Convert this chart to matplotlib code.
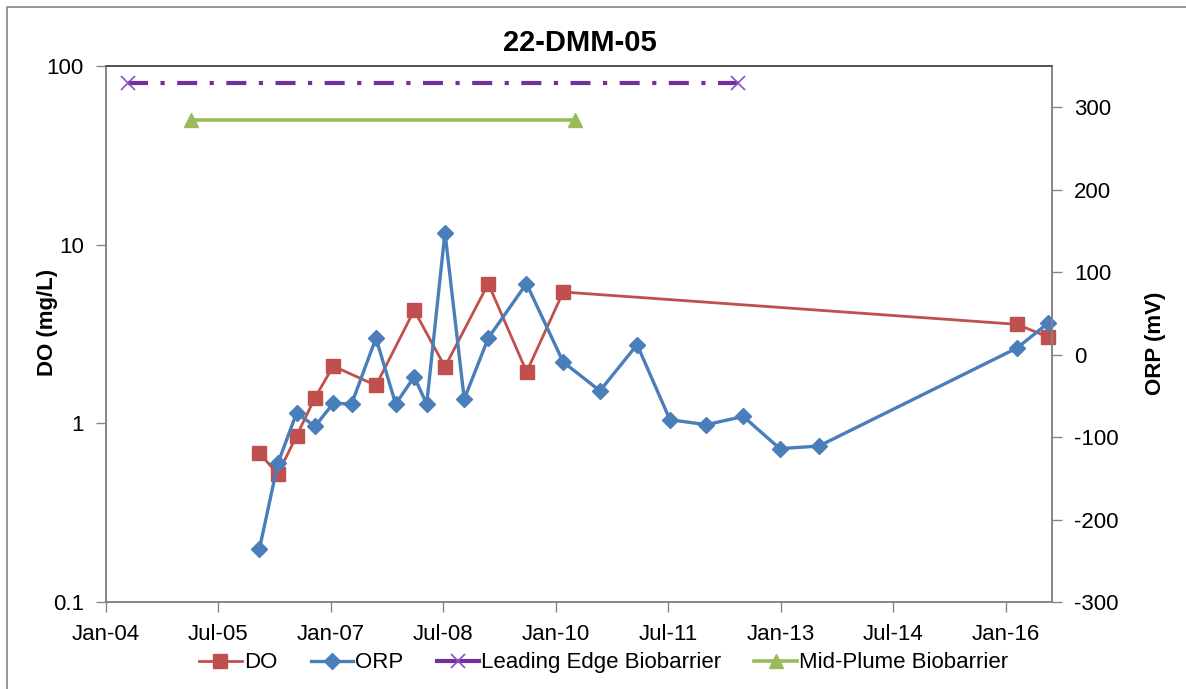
import pandas as pd
import matplotlib
matplotlib.use("Agg")
import matplotlib.pyplot as plt
import matplotlib.dates as mdates
from matplotlib.ticker import NullLocator, FixedLocator, FixedFormatter
from matplotlib.patches import Rectangle
from matplotlib.lines import Line2D

plt.rcParams['font.family'] = ['Liberation Sans', 'DejaVu Sans']
plt.rcParams['axes.unicode_minus'] = False

# dissolved oxygen (mg/L), left log axis
do_dates = pd.to_datetime([
    '2006-01-17', '2006-04-17', '2006-07-17', '2006-10-15', '2007-01-12',
    '2007-08-08', '2008-02-10', '2008-07-09', '2009-02-05', '2009-08-11',
    '2010-02-05', '2016-02-25', '2016-07-24'])
do_values = [0.68, 0.52, 0.85, 1.39, 2.09, 1.63, 4.29, 2.07, 6.05, 1.94,
             5.43, 3.58, 3.04]

# ORP (mV), right axis
orp_dates = pd.to_datetime([
    '2006-01-17', '2006-04-17', '2006-07-17', '2006-10-15', '2007-01-12',
    '2007-04-11', '2007-08-08', '2007-11-12', '2008-02-10', '2008-04-11',
    '2008-07-09', '2008-10-11', '2009-02-05', '2009-08-10', '2010-02-05',
    '2010-08-03', '2011-01-31', '2011-07-10', '2012-01-04', '2012-07-01',
    '2012-12-26', '2013-07-04', '2016-02-25', '2016-07-24'])
orp_values = [-236, -132, -71, -87, -59, -60, 20, -60, -27, -60,
              148, -54, 20, 86, -9, -44, 12, -79, -85, -75,
              -114, -111, 8, 38]

# biobarrier installation periods
leading_edge_dates = pd.to_datetime(['2004-04-17', '2012-06-07'])
leading_edge_values = [80, 80]
mid_plume_dates = pd.to_datetime(['2005-02-16', '2010-04-03'])
mid_plume_values = [50, 50]

tick_dates = pd.date_range('2004-01-01', periods=9, freq='18MS')
do_ticks = [0.1, 1, 10, 100]
do_tick_labels = ['0.1', '1', '10', '100']
orp_ticks = [-300, -200, -100, 0, 100, 200, 300]

red = '#C0504D'
blue = '#4A7EBB'
purple = '#7030A0'
green = '#9BBB59'
axis_gray = '#868686'

do_style = dict(color=red, lw=2.0, marker='s', ms=10.5)
orp_style = dict(color=blue, lw=2.4, marker='D', ms=8.5)
le_style = dict(color=purple, lw=3, marker='x', ms=10, mew=1.2, mec='#8A4FC4')
mp_style = dict(color=green, lw=2.6, marker='^', ms=10)

fig = plt.figure(figsize=(11.86, 6.89), dpi=100)
ax = fig.add_axes([0.0894, 0.1263, 0.7976, 0.778])
ax2 = ax.twinx()

ax.plot(leading_edge_dates, leading_edge_values, dashes=(4.8, 3, 1, 3),
        clip_on=False, **le_style)
ax.plot(mid_plume_dates, mid_plume_values, clip_on=False, **mp_style)
ax.plot(do_dates, do_values, clip_on=False, **do_style)
ax2.plot(orp_dates, orp_values, clip_on=False, **orp_style)

ax.set_yscale('log')
ax.set_ylim(0.1, 100)
ax.yaxis.set_major_locator(FixedLocator(do_ticks))
ax.yaxis.set_major_formatter(FixedFormatter(do_tick_labels))
ax.yaxis.set_minor_locator(NullLocator())

ax2.set_ylim(-300, 350)
ax2.set_yticks(orp_ticks)

ax.set_xlim(pd.Timestamp('2004-01-01'), pd.Timestamp('2016-08-13'))
ax.set_xticks(tick_dates)
ax.xaxis.set_major_formatter(mdates.DateFormatter('%b-%y'))
ax.xaxis.set_minor_locator(NullLocator())

for a in (ax, ax2):
    a.tick_params(direction='out', length=7, width=1, color=axis_gray,
                  labelsize=16, pad=9)
    for side, sp in a.spines.items():
        sp.set_color(axis_gray)
        sp.set_linewidth(1.2)
    a.spines['top'].set_color('#505050')

fig.text(0.489, 0.938, '22-DMM-05', ha='center', va='center',
         fontsize=21, fontweight='bold')
fig.text(0.040, 0.532, 'DO (mg/L)', ha='center', va='center',
         rotation=90, fontsize=16, fontweight='bold')
fig.text(0.974, 0.502, 'ORP (mV)', ha='center', va='center',
         rotation=90, fontsize=16, fontweight='bold')

handles = [
    Line2D([], [], **do_style),
    Line2D([], [], **orp_style),
    Line2D([], [], **le_style),
    Line2D([], [], **mp_style),
]
labels = ['DO', 'ORP', 'Leading Edge Biobarrier', 'Mid-Plume Biobarrier']
fig.legend(handles, labels, loc='center', bbox_to_anchor=(0.509, 0.038),
           ncol=4, frameon=False, fontsize=16, handlelength=1.9,
           handletextpad=0.1, columnspacing=1.5)

# chart border (only the top and left edges fall inside the image)
fig.patches.append(Rectangle((0.0059, -0.5), 2, 1.4898, transform=fig.transFigure,
                             fill=False, edgecolor=axis_gray, lw=1.2))

fig.savefig('out.png', dpi=100)
